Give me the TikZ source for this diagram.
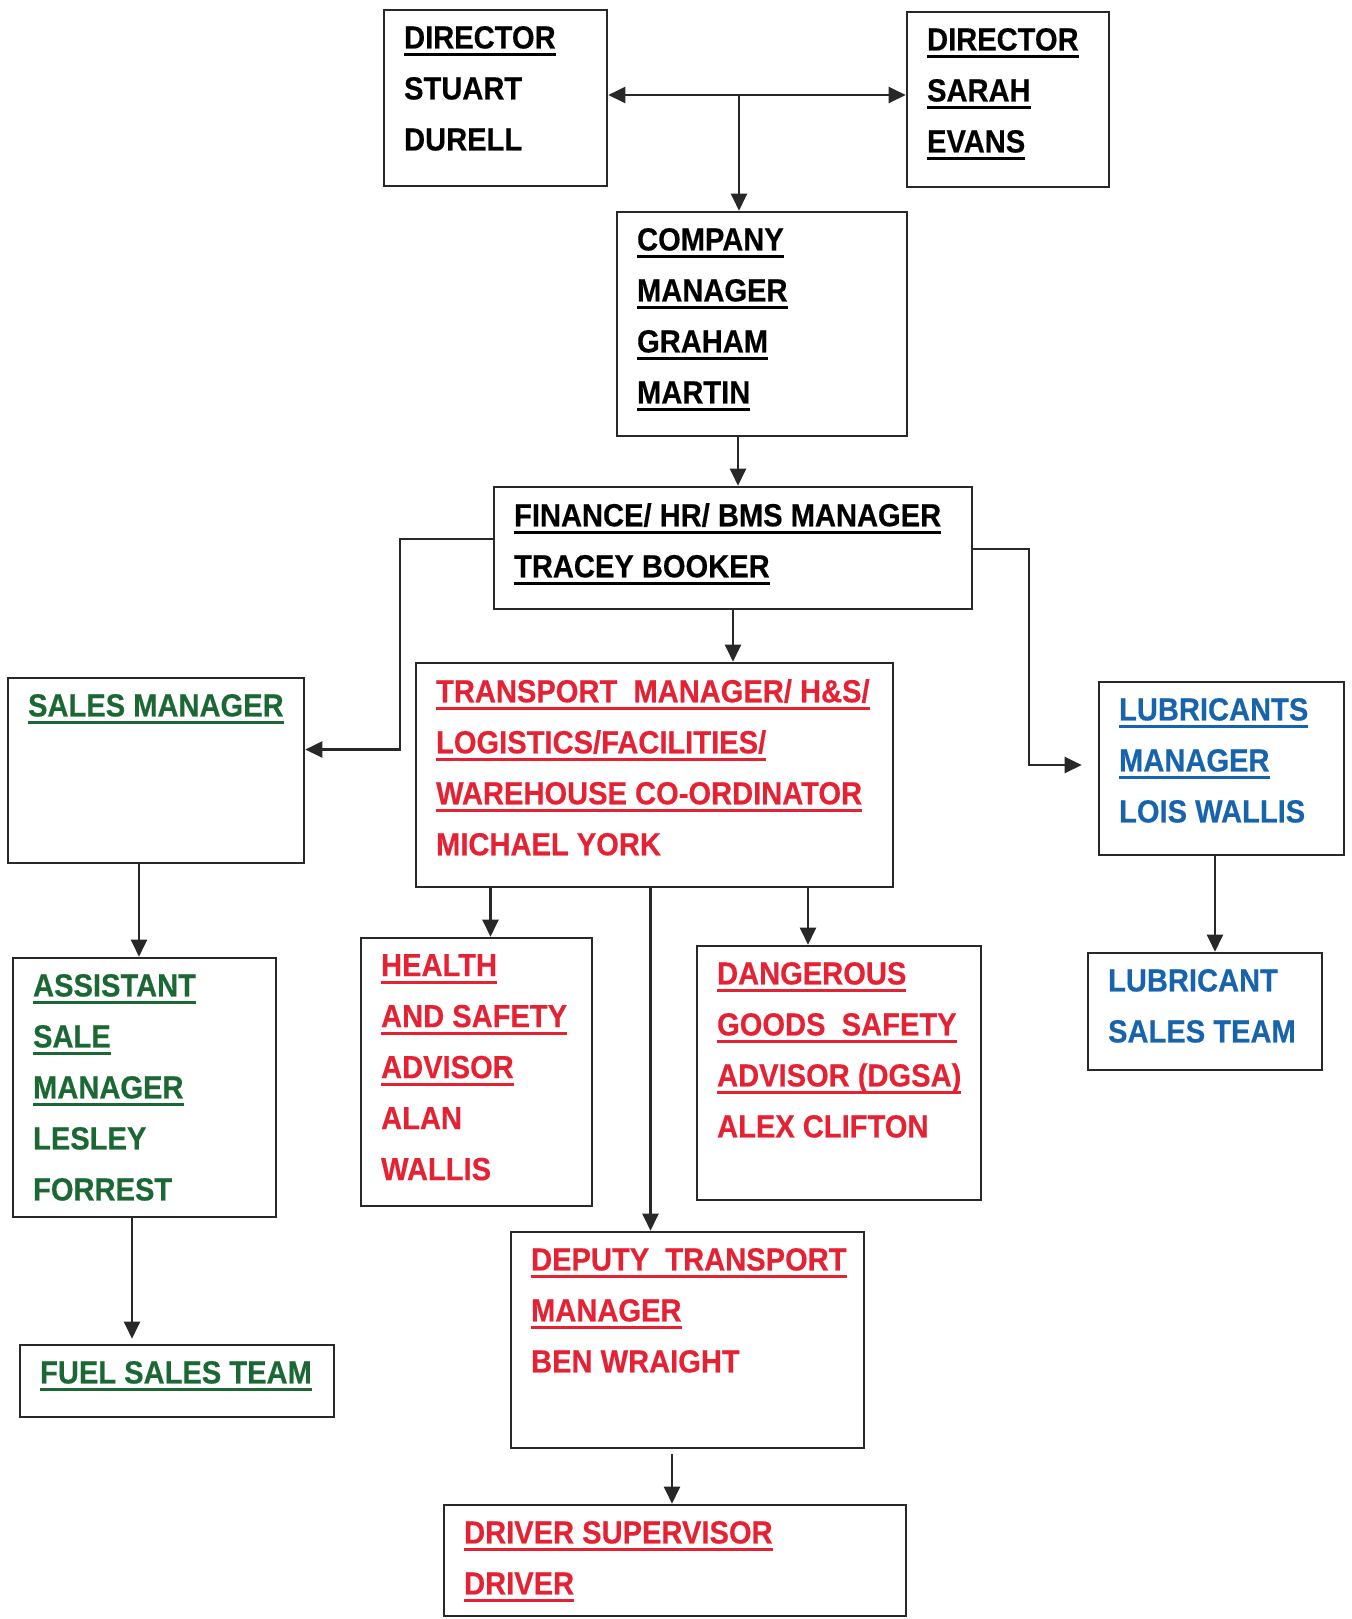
\documentclass[tikz,border=0pt]{standalone}
\usepackage{fontspec}
\setmainfont{Liberation Sans}[FakeStretch=0.91, BoldFeatures={FakeBold=0.4}]
\usetikzlibrary{
  fit,
  arrows.meta
}
\definecolor{orgline}{RGB}{40,40,40}
\definecolor{orggreen}{RGB}{28,104,52}
\definecolor{orgred}{RGB}{229,34,52}
\definecolor{orgblue}{RGB}{24,100,172}
% thick underline in the colour of the text
\newcommand\undl[1]{\sbox0{#1}\rlap{\rule[-3.9pt]{\wd0}{1.7pt}}\box0}

\begin{document}
\begin{tikzpicture}[x=0.5pt,y=-0.5pt]
  \tikzset{
    orgbox/.style={draw=orgline, line width=1.3pt, inner sep=0pt},
    orgtext/.style={anchor=north west, align=left, inner sep=0pt,
      font=\bfseries\fontsize{16pt}{25.5pt}\selectfont},
    blacktext/.style={orgtext, text=black},
    greentext/.style={orgtext, text=orggreen},
    redtext/.style={orgtext, text=orgred},
    bluetext/.style={orgtext, text=orgblue},
    orgarrow/.style={draw=orgline, line width=1.1pt,
      -{Triangle[length=8.5pt,width=8pt]}},
    orgboth/.style={orgarrow,
      {Triangle[length=8.5pt,width=8pt]}-{Triangle[length=8.5pt,width=8pt]}},
  }
  \useasboundingbox (0,0) rectangle (1352,1619);

  % boxes, corners in pixels of the page
  \node[orgbox, fit={(384,10) (607,186)}] (stuart) {};
  \node[orgbox, fit={(907,12) (1109,187)}] (sarah) {};
  \node[orgbox, fit={(617,212) (907,436)}] (company) {};
  \node[orgbox, fit={(494,487) (972,609)}] (finance) {};
  \node[orgbox, fit={(8,678) (304,863)}] (sales) {};
  \node[orgbox, fit={(416,663) (893,887)}] (transport) {};
  \node[orgbox, fit={(1099,682) (1344,855)}] (lubes) {};
  \node[orgbox, fit={(13,958) (276,1217)}] (assistant) {};
  \node[orgbox, fit={(361,938) (592,1206)}] (health) {};
  \node[orgbox, fit={(697,946) (981,1200)}] (dgsa) {};
  \node[orgbox, fit={(1088,953) (1322,1070)}] (lubeteam) {};
  \node[orgbox, fit={(20,1345) (334,1417)}] (fuelteam) {};
  \node[orgbox, fit={(511,1232) (864,1448)}] (deputy) {};
  \node[orgbox, fit={(444,1505) (906,1616)}] (driver) {};

  % texts, all set in from the top left corner
  \node[blacktext] (stuart-t) at ([shift={(21,17)}]stuart.north west)
  {\undl{DIRECTOR}\\STUART\\DURELL};
  \node[blacktext] (sarah-t) at ([shift={(21,17)}]sarah.north west)
  {\undl{DIRECTOR}\\\undl{SARAH}\\\undl{EVANS}};
  \node[blacktext] (company-t) at ([shift={(21,17)}]company.north west)
  {\undl{COMPANY}\\\undl{MANAGER}\\\undl{GRAHAM}\\\undl{MARTIN}};
  \node[blacktext] (finance-t) at ([shift={(21,17)}]finance.north west)
  {\undl{FINANCE/ HR/ BMS MANAGER}\\\undl{TRACEY BOOKER}};
  \node[greentext] (sales-t) at ([shift={(21,17)}]sales.north west)
  {\undl{SALES MANAGER}};
  \node[redtext] (transport-t) at ([shift={(21,17)}]transport.north west)
  {\undl{TRANSPORT\ \ MANAGER/ H\&S/}\\\undl{LOGISTICS/FACILITIES/}\\
   \undl{WAREHOUSE CO-ORDINATOR}\\MICHAEL YORK};
  \node[bluetext] (lubes-t) at ([shift={(21,17)}]lubes.north west)
  {\undl{LUBRICANTS}\\\undl{MANAGER}\\LOIS WALLIS};
  \node[greentext] (assistant-t) at ([shift={(21,17)}]assistant.north west)
  {\undl{ASSISTANT}\\\undl{SALE}\\\undl{MANAGER}\\LESLEY\\FORREST};
  \node[redtext] (health-t) at ([shift={(21,17)}]health.north west)
  {\undl{HEALTH}\\\undl{AND SAFETY}\\\undl{ADVISOR}\\ALAN\\WALLIS};
  \node[redtext] (dgsa-t) at ([shift={(21,17)}]dgsa.north west)
  {\undl{DANGEROUS}\\\undl{GOODS\ \ SAFETY}\\\undl{ADVISOR (DGSA)}\\ALEX CLIFTON};
  \node[bluetext] (lubeteam-t) at ([shift={(21,17)}]lubeteam.north west)
  {LUBRICANT\\SALES TEAM};
  \node[greentext] (fuelteam-t) at ([shift={(21,17)}]fuelteam.north west)
  {\undl{FUEL SALES TEAM}};
  \node[redtext] (deputy-t) at ([shift={(21,17)}]deputy.north west)
  {\undl{DEPUTY\ \ TRANSPORT}\\\undl{MANAGER}\\BEN WRAIGHT};
  \node[redtext] (driver-t) at ([shift={(21,17)}]driver.north west)
  {\undl{DRIVER SUPERVISOR}\\\undl{DRIVER}};

  % directors share one line, the company manager hangs off it
  \draw[orgboth] ([yshift=1.5pt]stuart.east) -- ([yshift=1.5pt]stuart.east -| sarah.west);
  \coordinate (dirfork) at (739,95);
  \draw[orgarrow] (dirfork) -- (dirfork |- company.north);

  \draw[orgarrow] ([xshift=-12pt]company.south) -- ([xshift=-12pt]company.south |- finance.north);
  \draw[orgarrow] (finance.south) -- (finance.south |- transport.north);
  % side branches of the finance box
  \draw[orgarrow] ([yshift=4.5pt]finance.west) -- ++(-93,0) |- ([yshift=10.5pt]sales.east);
  \draw[orgarrow] ([yshift=-0.5pt]finance.east) -- ++(56,0) |- ([xshift=-8pt,yshift=1.75pt]lubes.west);

  % below the transport manager
  \draw[orgarrow] ([xshift=7pt]health.north |- transport.south) -- ([xshift=7pt]health.north);
  \draw[orgarrow] ([xshift=-2pt]transport.south) -- ([xshift=-2pt]transport.south |- deputy.north);
  \draw[orgarrow] ([xshift=-15.5pt]dgsa.north |- transport.south) -- ([xshift=-15.5pt]dgsa.north);
  \draw[orgarrow] ([xshift=-1.5pt,yshift=-2.5pt]driver.north |- deputy.south) -- ([xshift=-1.5pt]driver.north);

  % sales and lubricants columns
  \draw[orgarrow] ([xshift=-2.75pt]assistant.north |- sales.south) -- ([xshift=-2.75pt]assistant.north);
  \draw[orgarrow] ([xshift=-6.25pt]assistant.south) -- ([xshift=-6.25pt,yshift=2.5pt]assistant.south |- fuelteam.north);
  \draw[orgarrow] ([xshift=-3.25pt]lubes.south) -- ([xshift=-3.25pt]lubes.south |- lubeteam.north);
\end{tikzpicture}
\end{document}
